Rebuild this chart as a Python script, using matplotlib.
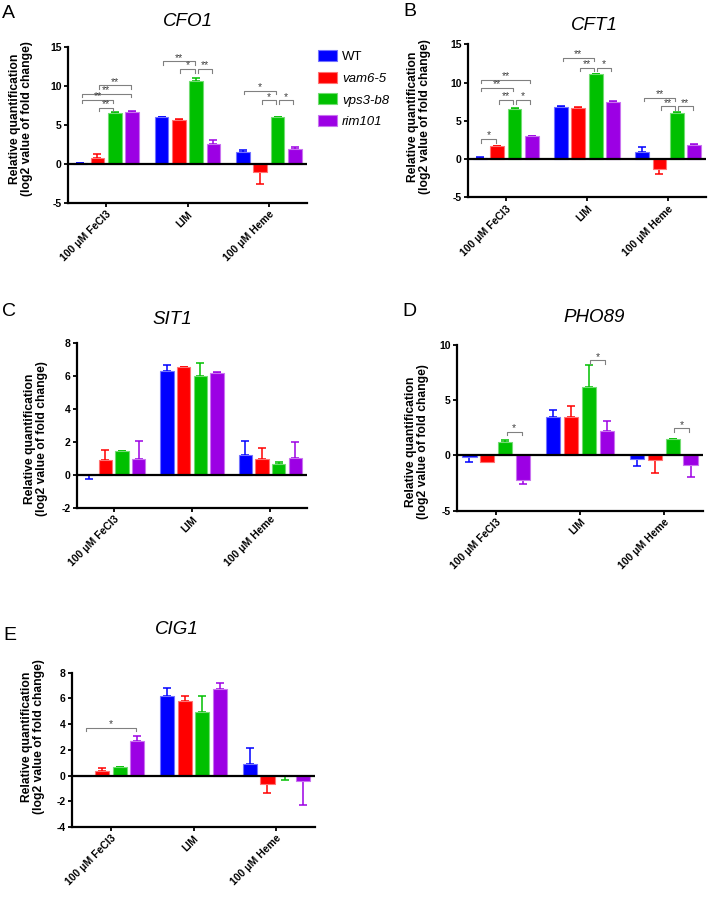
import matplotlib
matplotlib.use("Agg")
import matplotlib.pyplot as plt
from matplotlib.patches import Patch
from matplotlib.colors import to_rgb
import numpy as np

plt.rcParams['font.family'] = ['Liberation Sans', 'DejaVu Sans']
plt.rcParams['axes.unicode_minus'] = False

strains = ['WT', 'vam6-5', 'vps3-b8', 'rim101']
colors = ['#0000FF', '#FF0000', '#00C000', '#9C00E4']
conditions = ['100 μM FeCl3', 'LIM', '100 μM Heme']

# rows = strain (WT, vam6-5, vps3-b8, rim101), cols = condition
cfo1_mean = [[0.1, 6.0, 1.6], [0.8, 5.7, -1.05], [6.55, 10.7, 6.05], [6.75, 2.6, 1.95]]
cfo1_err = [[0.05, 0.1, 0.25], [0.55, 0.1, 1.55], [0.1, 0.35, 0.05], [0.05, 0.45, 0.25]]
# (condition, strain a, strain b, bracket height, label)
cfo1_sig = [(0, 1, 3, 10.1, '**'), (0, 0, 3, 9.0, '**'), (0, 0, 2, 8.25, '**'), (0, 1, 2, 7.2, '**'),
            (1, 0, 2, 13.2, '**'), (1, 1, 2, 12.2, '*'), (1, 2, 3, 12.2, '**'),
            (2, 0, 2, 9.4, '*'), (2, 1, 2, 8.2, '*'), (2, 2, 3, 8.2, '*')]

cft1_mean = [[0.2, 6.8, 0.9], [1.67, 6.7, -1.3], [6.6, 11.1, 6.05], [2.95, 7.5, 1.9]]
cft1_err = [[0.05, 0.12, 0.72], [0.05, 0.05, 0.7], [0.1, 0.05, 0.05], [0.05, 0.05, 0.05]]
cft1_sig = [(0, 0, 1, 2.6, '*'), (0, 0, 3, 10.35, '**'), (0, 0, 2, 9.3, '**'), (0, 1, 2, 7.7, '**'),
            (0, 2, 3, 7.7, '*'), (1, 0, 2, 13.2, '**'), (1, 1, 2, 11.9, '**'), (1, 2, 3, 11.9, '*'),
            (2, 0, 2, 8.0, '**'), (2, 1, 2, 6.9, '**'), (2, 2, 3, 6.9, '**')]

sit1_mean = [[-0.03, 6.3, 1.18], [0.88, 6.5, 0.98], [1.45, 5.98, 0.68], [0.97, 6.18, 1.05]]
sit1_err = [[0.22, 0.35, 0.87], [0.65, 0.03, 0.64], [0.02, 0.82, 0.12], [1.08, 0.07, 0.93]]
sit1_sig = []

pho89_mean = [[-0.1, 3.5, -0.35], [-0.55, 3.5, -0.45], [1.22, 6.2, 1.45], [-2.22, 2.2, -0.85]]
pho89_err = [[0.5, 0.62, 0.62], [0.05, 0.95, 1.15], [0.2, 2.0, 0.03], [0.38, 0.95, 1.1]]
pho89_sig = [(0, 2, 3, 2.16, '*'), (1, 2, 3, 8.6, '*'), (2, 2, 3, 2.46, '*')]

cig1_mean = [[0.0, 6.2, 0.9], [0.36, 5.8, -0.67], [0.65, 4.95, -0.02], [2.7, 6.74, -0.44]]
cig1_err = [[0.0, 0.62, 1.25], [0.2, 0.4, 0.67], [0.05, 1.27, 0.36], [0.4, 0.46, 1.86]]
cig1_sig = [(0, 0, 3, 3.7, '*')]

W, H = 708, 900
GROUP_STEP = 4.7
YLABEL = 'Relative quantification\n(log2 value of fold change)'


def px_rect(left, top, right, bottom):
    return [left / W, 1 - bottom / H, (right - left) / W, (bottom - top) / H]


def lighter(c, f=0.45):
    r, g, b = to_rgb(c)
    return (r + (1 - r) * f, g + (1 - g) * f, b + (1 - b) * f)


def draw_panel(ax, means, errs, sig, ylim, yticks):
    means = np.array(means)
    errs = np.array(errs)
    group_x = np.arange(len(conditions)) * GROUP_STEP
    for k in range(len(strains)):
        xs = group_x + (k - 1.5)
        ax.bar(xs, means[k], width=0.8, color=colors[k], edgecolor=lighter(colors[k]),
               linewidth=0.8, zorder=2)
        lower = np.where(means[k] < 0, errs[k], 0)
        upper = np.where(means[k] >= 0, errs[k], 0)
        ax.errorbar(xs, means[k], yerr=[lower, upper], fmt='none', ecolor=colors[k],
                    elinewidth=1.1, capsize=3, capthick=1.1, zorder=1)

    h = 0.022 * (ylim[1] - ylim[0])
    for g, i, j, y, lab in sig:
        x1 = group_x[g] + (i - 1.5) + 0.08
        x2 = group_x[g] + (j - 1.5) - 0.08
        ax.plot([x1, x1, x2, x2], [y - h, y, y, y - h], color='#808080', lw=0.8, zorder=3)
        ax.annotate(lab, ((x1 + x2) / 2, y), xytext=(0, -1), textcoords='offset points',
                    ha='center', va='bottom', fontsize=7.5, color='#404040')

    ax.axhline(0, color='black', lw=1.6, zorder=4)
    ax.set_xlim(-2.2, 2 * GROUP_STEP + 2.2)
    ax.set_ylim(*ylim)
    ax.set_yticks(yticks)
    ax.set_xticks(group_x)
    ax.set_xticklabels(conditions, rotation=45, ha='right', rotation_mode='anchor',
                       fontsize=7.5, fontweight='bold')
    for t in ax.get_yticklabels():
        t.set_fontweight('bold')
        t.set_fontsize(7.5)
    ax.spines['top'].set_visible(False)
    ax.spines['right'].set_visible(False)
    ax.spines['left'].set_linewidth(1.6)
    ax.spines['bottom'].set_linewidth(1.6)
    ax.tick_params(direction='out', length=3, width=1.3, pad=1.5)


fig = plt.figure(figsize=(W / 100, H / 100), dpi=100)

panels = [
    ('A', 'CFO1', px_rect(68, 47.3, 307, 203), cfo1_mean, cfo1_err, cfo1_sig, (-5, 15), [-5, 0, 5, 10, 15],
     (2, 14), (188, 21), (21, 119)),
    ('B', 'CFT1', px_rect(468, 44.3, 706, 197.3), cft1_mean, cft1_err, cft1_sig, (-5, 15), [-5, 0, 5, 10, 15],
     (403, 12), (594, 25), (419, 117)),
    ('C', 'SIT1', px_rect(77, 342.7, 307, 508), sit1_mean, sit1_err, sit1_sig, (-2, 8), [-2, 0, 2, 4, 6, 8],
     (2, 312), (172, 319), (36, 439)),
    ('D', 'PHO89', px_rect(457, 345, 703, 510.7), pho89_mean, pho89_err, pho89_sig, (-5, 10), [-5, 0, 5, 10],
     (402, 311), (594, 317), (417, 442)),
    ('E', 'CIG1', px_rect(72, 672.7, 315, 827), cig1_mean, cig1_err, cig1_sig, (-4, 8), [-4, -2, 0, 2, 4, 6, 8],
     (3, 635), (177, 630), (33, 737)),
]

for letter, gene, rect, m, e, s, ylim, yticks, lpos, tpos, ypos in panels:
    ax = fig.add_axes(rect)
    draw_panel(ax, m, e, s, ylim, yticks)
    fig.text(lpos[0] / W, 1 - lpos[1] / H, letter, fontsize=14, ha='left', va='center')
    fig.text(tpos[0] / W, 1 - tpos[1] / H, gene, fontsize=13.5, style='italic', ha='center', va='center')
    fig.text(ypos[0] / W, 1 - ypos[1] / H, YLABEL, fontsize=8.7, fontweight='bold', rotation=90,
             ha='center', va='center', multialignment='center', linespacing=1.1)

handles = [Patch(facecolor=c, edgecolor=lighter(c), linewidth=0.8) for c in colors]
leg = fig.legend(handles, strains, loc='upper left', bbox_to_anchor=(313 / W, 1 - 45 / H),
                 frameon=False, fontsize=9.5, handlelength=1.4, handleheight=0.9,
                 labelspacing=0.65, handletextpad=0.4, borderaxespad=0)
for i, t in enumerate(leg.get_texts()):
    if i > 0:
        t.set_style('italic')

fig.savefig('out.png', dpi=100)
